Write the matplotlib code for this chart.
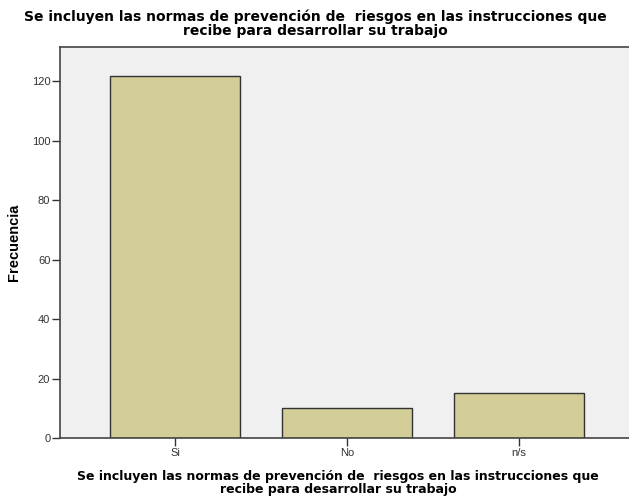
#!/usr/bin/env python3
"""
SPSS-style frequency bar chart.
"""
import matplotlib
matplotlib.use("Agg")
import matplotlib.pyplot as plt
import numpy as np

categories = ["Si", "No", "n/s"]
frecuencia = [122, 10, 15]
y_ticks = [0, 20, 40, 60, 80, 100, 120]

titulo = ("Se incluyen las normas de prevención de  riesgos en las instrucciones que\n"
          "recibe para desarrollar su trabajo")

plt.rcParams["font.family"] = ["Liberation Sans", "DejaVu Sans"]

fig = plt.figure(figsize=(6.29, 5.04), dpi=100)
# plot area runs a little past the right edge of the picture, as in the original
ax = fig.add_axes([60 / 629, 1 - 438 / 504, (634 - 60) / 629, (438 - 47) / 504])
ax.set_facecolor("#F0F0F0")

x = np.arange(len(categories))
ax.bar(x, frecuencia, width=0.756, color="#D3CE97", edgecolor="#333333",
       linewidth=1.0, zorder=2)

ax.set_xlim(-0.669, 2.669)
ax.set_ylim(0, 131.6)
ax.set_xticks(x)
ax.set_xticklabels(categories)
ax.set_yticks(y_ticks)
ax.tick_params(axis="both", direction="out", length=6, width=1,
               color="#333333", labelsize=8, labelcolor="#333333", pad=1)

for side in ["left", "bottom", "top"]:
    ax.spines[side].set_color("#444444")
    ax.spines[side].set_linewidth(1.2)
ax.spines["right"].set_visible(False)

ax.set_ylabel("Frecuencia", fontsize=10.5, fontweight="bold", labelpad=8)
ax.set_xlabel(titulo, fontsize=9, fontweight="bold", labelpad=9,
              linespacing=0.95, family="DejaVu Sans")
ax.xaxis.label.set_x(0.484)
fig.text(315 / 629, 1 - 10 / 504, titulo, ha="center", va="top",
         fontsize=10, fontweight="bold", linespacing=0.95, family="DejaVu Sans")

fig.savefig("out.png", dpi=100)
